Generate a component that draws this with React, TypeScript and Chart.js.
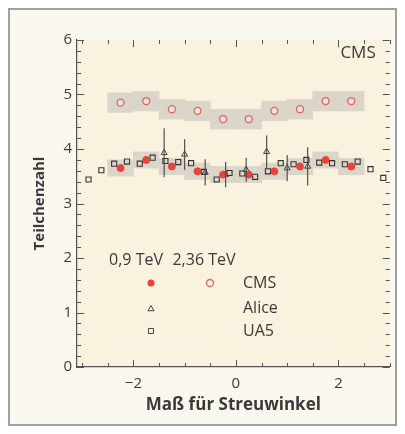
import { useEffect, useRef } from "react";
import { Chart, registerables } from "chart.js";

Chart.register(...registerables);

// ---- data ----
const cmsEta = [-2.25, -1.75, -1.25, -0.75, -0.25, 0.25, 0.75, 1.25, 1.75, 2.25];
const cms09Values = [3.65, 3.8, 3.68, 3.59, 3.53, 3.53, 3.59, 3.68, 3.8, 3.68];
const cms09Sys = [0.15, 0.15, 0.15, 0.15, 0.15, 0.15, 0.15, 0.15, 0.15, 0.15];
const cms236Values = [4.85, 4.88, 4.73, 4.7, 4.55, 4.55, 4.7, 4.73, 4.88, 4.88];
const cms236Sys = [0.18, 0.18, 0.18, 0.18, 0.18, 0.18, 0.18, 0.18, 0.18, 0.18];

const aliceEta = [-1.4, -1.0, -0.6, -0.2, 0.2, 0.6, 1.0, 1.4];
const aliceValues = [3.93, 3.9, 3.57, 3.53, 3.62, 3.95, 3.65, 3.68];
const aliceErrors = [0.45, 0.28, 0.24, 0.23, 0.22, 0.3, 0.24, 0.35];

const ua5Eta = [
  -2.875, -2.625, -2.375, -2.125, -1.875, -1.625, -1.375, -1.125, -0.875, -0.625, -0.375, -0.125,
  0.125, 0.375, 0.625, 0.875, 1.125, 1.375, 1.625, 1.875, 2.125, 2.375, 2.625, 2.875,
];
const ua5Values = [
  3.44, 3.61, 3.73, 3.77, 3.73, 3.84, 3.78, 3.76, 3.74, 3.58, 3.44, 3.56,
  3.55, 3.49, 3.59, 3.74, 3.72, 3.8, 3.75, 3.74, 3.72, 3.77, 3.63, 3.47,
];

const xTickValues = [-2, 0, 2];
const yTickValues = [0, 1, 2, 3, 4, 5, 6];
const xMinorStep = 0.5;
const yMinorStep = 0.2;

const FONT = "'Open Sans', 'DejaVu Sans', sans-serif";
const TEXT = "#3a3a3a";
const AXIS = "#555555";
const RED = "#e8443a";
const RED_OPEN = "#e0655c";
const BAND = "#dbd5ca";

function drawMarker(ctx: CanvasRenderingContext2D, style: string, x: number, y: number, r: number) {
  ctx.beginPath();
  if (style === "circle") {
    ctx.arc(x, y, r, 0, Math.PI * 2);
  } else if (style === "rect") {
    const s = Math.SQRT1_2 * r;
    ctx.rect(x - s, y - s, 2 * s, 2 * s);
  } else if (style === "triangle") {
    ctx.moveTo(x, y - r);
    ctx.lineTo(x + r * 0.866, y + r * 0.5);
    ctx.lineTo(x - r * 0.866, y + r * 0.5);
    ctx.closePath();
  }
}

const decorPlugin = {
  id: "decor",
  beforeDraw(chart: any) {
    const { ctx, chartArea: a } = chart;
    ctx.save();
    ctx.fillStyle = "#f8f2df";
    ctx.fillRect(a.left, a.top, a.right - a.left, a.bottom - a.top);
    ctx.restore();
  },
  afterDatasetsDraw(chart: any) {
    const { ctx } = chart;
    const xs = chart.scales.x;
    const ys = chart.scales.y;
    ctx.save();
    ctx.strokeStyle = "#444";
    ctx.lineWidth = 1.1;
    aliceEta.forEach((eta, i) => {
      const px = xs.getPixelForValue(eta);
      ctx.beginPath();
      ctx.moveTo(px, ys.getPixelForValue(aliceValues[i] + aliceErrors[i]));
      ctx.lineTo(px, ys.getPixelForValue(aliceValues[i] - aliceErrors[i]));
      ctx.stroke();
    });
    ctx.restore();
  },
  afterDraw(chart: any) {
    const { ctx, chartArea: a } = chart;
    const xs = chart.scales.x;
    const ys = chart.scales.y;
    ctx.save();
    ctx.strokeStyle = AXIS;
    ctx.lineWidth = 1;
    // x ticks (bottom and top, inward)
    for (let v = Math.ceil(xs.min / xMinorStep) * xMinorStep; v <= xs.max + 1e-9; v += xMinorStep) {
      const px = Math.round(xs.getPixelForValue(v)) + 0.5;
      const major = Math.abs(v / 2 - Math.round(v / 2)) < 1e-6;
      const len = major ? 7 : 4;
      ctx.beginPath();
      ctx.moveTo(px, a.bottom);
      ctx.lineTo(px, a.bottom - len);
      ctx.moveTo(px, a.top);
      ctx.lineTo(px, a.top + len);
      ctx.stroke();
    }
    // y ticks (left and right, inward)
    for (let k = 0; k * yMinorStep <= ys.max + 1e-9; k++) {
      const v = k * yMinorStep;
      const py = Math.round(ys.getPixelForValue(v)) + 0.5;
      const major = k % 5 === 0;
      const len = major ? 7 : 4;
      ctx.beginPath();
      ctx.moveTo(a.left, py);
      ctx.lineTo(a.left + len, py);
      ctx.moveTo(a.right, py);
      ctx.lineTo(a.right - len, py);
      ctx.stroke();
    }
    ctx.restore();

    // experiment label
    ctx.save();
    ctx.fillStyle = TEXT;
    ctx.font = `17px ${FONT}`;
    ctx.textAlign = "right";
    ctx.textBaseline = "middle";
    ctx.fillText("CMS", a.right - 14, a.top + 13);

    // legend
    ctx.font = `16px ${FONT}`;
    const hdrY = 250;
    const rows = [273, 298, 321];
    const m1 = 141;
    const m2 = 200;
    const tx = 233;
    ctx.textAlign = "center";
    ctx.fillText("0,9 TeV", 126, hdrY);
    ctx.fillText("2,36 TeV", 194, hdrY);
    ctx.textAlign = "left";
    ctx.fillText("CMS", tx, rows[0]);
    ctx.fillText("Alice", tx, rows[1]);
    ctx.fillText("UA5", tx, rows[2]);

    ctx.fillStyle = RED;
    drawMarker(ctx, "circle", m1, rows[0], 3.5);
    ctx.fill();
    ctx.strokeStyle = RED_OPEN;
    ctx.lineWidth = 1.3;
    drawMarker(ctx, "circle", m2, rows[0], 3.5);
    ctx.stroke();
    ctx.strokeStyle = "#444";
    ctx.lineWidth = 1;
    drawMarker(ctx, "triangle", m1, rows[1] + 1, 3.5);
    ctx.stroke();
    drawMarker(ctx, "rect", m1, rows[2], 3.6);
    ctx.stroke();
    ctx.restore();
  },
};

export default function App() {
  const ref = useRef<HTMLCanvasElement | null>(null);

  useEffect(() => {
    if (!ref.current) return;
    const band = (vals: number[], sys: number[]) =>
      cmsEta.map((x, i) => ({ x, y: [vals[i] - sys[i], vals[i] + sys[i]] }));
    const pts = (xs: number[], ys: number[]) => xs.map((x, i) => ({ x, y: ys[i] }));

    const chart = new Chart(ref.current, {
      type: "scatter",
      data: {
        datasets: [
          {
            type: "bar",
            data: band(cms236Values, cms236Sys) as any,
            backgroundColor: BAND,
            borderWidth: 0,
            barPercentage: 1,
            categoryPercentage: 1,
            grouped: false,
            order: 10,
          } as any,
          {
            type: "bar",
            data: band(cms09Values, cms09Sys) as any,
            backgroundColor: BAND,
            borderWidth: 0,
            barPercentage: 1,
            categoryPercentage: 1,
            grouped: false,
            order: 10,
          } as any,
          {
            type: "scatter",
            data: pts(ua5Eta, ua5Values),
            pointStyle: "rect",
            pointRadius: 3.6,
            borderColor: "#333",
            backgroundColor: "rgba(0,0,0,0)",
            borderWidth: 1.1,
            order: 3,
          },
          {
            type: "scatter",
            data: pts(aliceEta, aliceValues),
            pointStyle: "triangle",
            pointRadius: 3.5,
            borderColor: "#444",
            backgroundColor: "rgba(0,0,0,0)",
            borderWidth: 1,
            order: 2,
          },
          {
            type: "scatter",
            data: pts(cmsEta, cms09Values),
            pointStyle: "circle",
            pointRadius: 3.5,
            borderColor: RED,
            backgroundColor: RED,
            borderWidth: 1,
            order: 1,
          },
          {
            type: "scatter",
            data: pts(cmsEta, cms236Values),
            pointStyle: "circle",
            pointRadius: 3.5,
            borderColor: RED_OPEN,
            backgroundColor: "rgba(255,245,240,0.4)",
            borderWidth: 1.3,
            order: 1,
          },
        ],
      },
      options: {
        responsive: false,
        animation: false,
        events: [],
        layout: { padding: { top: 30, right: 3, left: 0, bottom: 0 } },
        plugins: { legend: { display: false }, tooltip: { enabled: false } },
        scales: {
          x: {
            type: "linear",
            min: -3.1,
            max: 3.0,
            offset: false,
            grid: { display: true, drawOnChartArea: false, drawTicks: false },
            border: { display: true, color: AXIS, width: 1.2 },
            afterBuildTicks: (s: any) => {
              s.ticks = xTickValues.map((v) => ({ value: v }));
            },
            afterFit: (s: any) => {
              s.height = 57;
            },
            ticks: {
              padding: 8,
              color: TEXT,
              font: { family: FONT, size: 15 },
              callback: (v: any) => String(v).replace("-", "\u2212"),
            },
            title: {
              display: true,
              text: "Maß für Streuwinkel",
              color: TEXT,
              font: { family: FONT, size: 17, weight: "bold" },
              padding: { top: 0, bottom: 8.5 },
            },
          },
          y: {
            type: "linear",
            min: 0,
            max: 6,
            grid: { display: true, drawOnChartArea: false, drawTicks: false },
            border: { display: true, color: AXIS, width: 1.2 },
            afterBuildTicks: (s: any) => {
              s.ticks = yTickValues.map((v) => ({ value: v }));
            },
            afterFit: (s: any) => {
              s.width = 67;
            },
            ticks: {
              padding: 5,
              color: TEXT,
              font: { family: FONT, size: 15 },
            },
            title: {
              display: true,
              text: "Teilchenzahl",
              color: TEXT,
              font: { family: FONT, size: 15, weight: "bold" },
              padding: { top: 21, bottom: 0 },
            },
          },
        },
      },
      plugins: [decorPlugin],
    });
    return () => chart.destroy();
  }, []);

  return (
    <div
      style={{
        width: 389,
        height: 418,
        boxSizing: "border-box",
        border: "2px solid #a0a0a0",
        background: "#fbf8ef",
      }}
    >
      <canvas ref={ref} width={385} height={414} style={{ display: "block" }} />
    </div>
  );
}
